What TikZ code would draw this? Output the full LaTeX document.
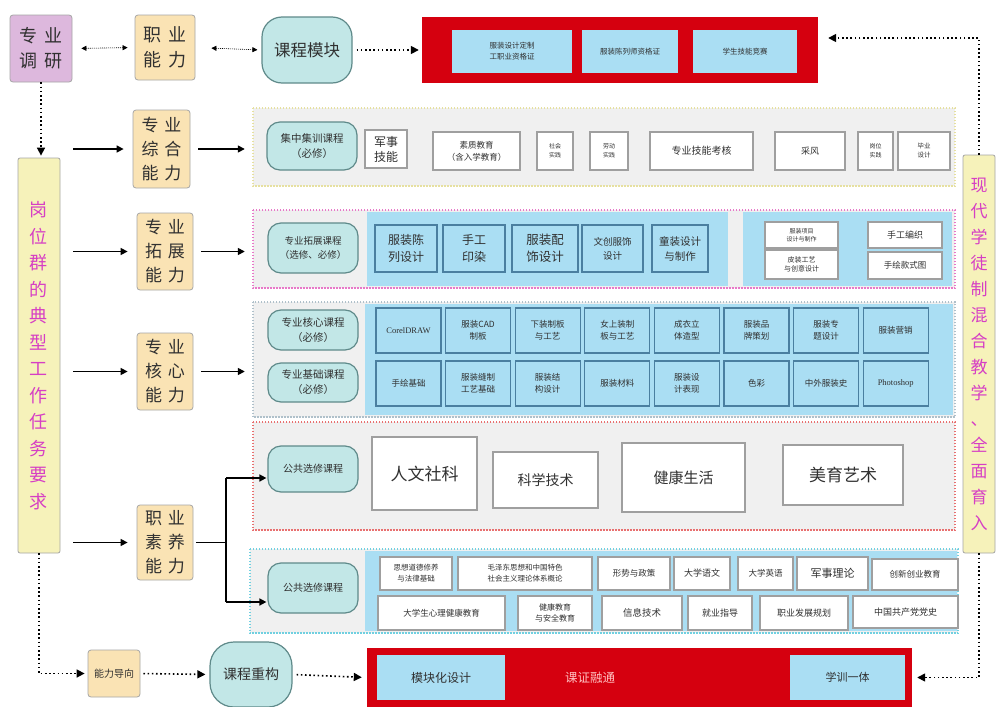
\documentclass[tikz,border=0pt]{standalone}
\usepackage{fontspec}
\setmainfont{Liberation Serif}
\newfontfamily\cjk{Noto Sans CJK SC}
\usetikzlibrary{arrows.meta}
\definecolor{tealf}{HTML}{C2E7E7}
\definecolor{teald}{HTML}{5F8A8A}
\definecolor{tanf}{HTML}{FAE3B4}
\definecolor{purpf}{HTML}{DDB8DD}
\definecolor{ylwf}{HTML}{F6F2BA}
\definecolor{magt}{HTML}{D63FC4}
\definecolor{lblue}{HTML}{AADEF3}
\definecolor{bblue}{HTML}{4A7FA0}
\definecolor{redf}{HTML}{D5000F}
\definecolor{contg}{HTML}{F0F0F0}
\definecolor{txt}{HTML}{303030}
\definecolor{d2}{HTML}{E6E0A0}
\definecolor{d3}{HTML}{E878C8}
\definecolor{d4}{HTML}{AFC0CA}
\definecolor{d5}{HTML}{E87070}
\definecolor{d6}{HTML}{70D0E0}
\newcommand\fz[2]{\cjk\fontsize{#1}{#2}\selectfont}
\newcommand\bx[7]{\node[#6, minimum width={(#4)-(#2)}, minimum height={(#5)-(#3)}, inner sep=0pt] (#1) at ({((#2)+(#4))/2},{((#3)+(#5))/2}) {#7};}
\newcommand\hsp{\hspace{0.35em}}
\begin{document}
\begin{tikzpicture}[x=1pt,y=-1pt,
  every node/.style={font=\cjk, align=center, text=txt},
  tanbox/.style={fill=tanf, draw=gray!70, rounded corners=3pt, line width=0.8pt},
  purpbox/.style={fill=purpf, draw=gray!70, rounded corners=3pt, line width=0.8pt},
  ylwbox/.style={fill=ylwf, draw=gray!70, rounded corners=2pt, line width=0.8pt},
  course/.style={fill=tealf, draw=teald, rounded corners=13pt, line width=1.2pt},
  wbox/.style={fill=white, draw=gray!75, line width=1.2pt},
  bbox/.style={fill=lblue, draw=bblue, line width=1.2pt},
  lbox/.style={fill=lblue},
  redbox/.style={fill=redf},
  contfill/.style={fill=contg},
  bord/.style={line width=1.6pt, dash pattern=on 1.4pt off 1.6pt},
  sarr/.style={line width=1.5pt, -{Triangle[length=7pt,width=7pt]}},
  sline/.style={line width=1.5pt},
  darr/.style={line width=1.6pt, dash pattern=on 1.6pt off 2.6pt, -{Triangle[length=8pt,width=8pt]}},
  tdd/.style={line width=0.6pt, dash pattern=on 1pt off 1pt, {Triangle[length=5pt,width=5pt]}-{Triangle[length=5pt,width=5pt]}}
]
\useasboundingbox (0,0) rectangle (997,707);
\fill[white] (0,0) rectangle (997,707);

% top row
\bx{zy}{10}{15}{72}{82}{purpbox, font=\fz{18}{25}}{专\hsp 业\\调\hsp 研}
\bx{zn}{135}{15}{195}{80}{tanbox, font=\fz{18}{25}}{职\hsp 业\\能\hsp 力}
\bx{km}{262}{17}{352}{83}{course, rounded corners=20pt, font=\fz{16.5}{20}}{课程模块}
\bx{rt}{422}{17}{818}{83}{redbox}{}
\bx{t1}{452}{30}{572}{73}{lbox, font=\fz{7.5}{11}}{服装设计定制\\工职业资格证}
\bx{t2}{582}{30}{678}{73}{lbox, font=\fz{7.5}{11}}{服装陈列师资格证}
\bx{t3}{693}{30}{797}{73}{lbox, font=\fz{7.5}{11}}{学生技能竞赛}

% side columns
\bx{gw}{18}{158}{60}{553}{ylwbox, font=\fz{18}{26.5}, text=magt}{岗\\位\\群\\的\\典\\型\\工\\作\\任\\务\\要\\求}
\bx{rv}{963}{155}{995}{553}{ylwbox, font=\fz{17}{26}, text=magt}{现\\代\\学\\徒\\制\\混\\合\\教\\学\\、\\全\\面\\育\\入}

% middle column
\bx{m1}{133}{110}{190}{188}{tanbox, font=\fz{17}{24}}{专\hsp 业\\综\hsp 合\\能\hsp 力}
\bx{m2}{137}{213}{193}{290}{tanbox, font=\fz{17}{24}}{专\hsp 业\\拓\hsp 展\\能\hsp 力}
\bx{m3}{137}{333}{193}{410}{tanbox, font=\fz{17}{24}}{专\hsp 业\\核\hsp 心\\能\hsp 力}
\bx{m4}{137}{505}{193}{580}{tanbox, font=\fz{17}{24}}{职\hsp 业\\素\hsp 养\\能\hsp 力}

% row 2
\bx{c2}{253}{108}{955}{186}{contfill}{}
\draw[bord, d2] (c2.north west) rectangle (c2.south east);
\bx{p2}{267}{122}{357}{170}{course, font=\fz{10.5}{15}}{集中集训课程\\（必修）}
\bx{a1}{365}{130}{407}{168}{wbox, font=\fz{12}{15}}{军事\\技能}
\bx{a2}{433}{132}{520}{170}{wbox, font=\fz{8.5}{12}}{素质教育\\（含入学教育）}
\bx{a3}{537}{132}{573}{170}{wbox, font=\fz{6}{9}}{社会\\实践}
\bx{a4}{590}{132}{628}{170}{wbox, font=\fz{6}{9}}{劳动\\实践}
\bx{a5}{650}{132}{753}{170}{wbox, font=\fz{10}{12}}{专业技能考核}
\bx{a6}{775}{132}{845}{170}{wbox, font=\fz{9}{12}}{采风}
\bx{a7}{858}{132}{893}{170}{wbox, font=\fz{6}{9}}{岗位\\实践}
\bx{a8}{898}{132}{950}{170}{wbox, font=\fz{6.5}{9}}{毕业\\设计}

% row 3
\bx{c3}{253}{210}{955}{288}{contfill}{}
\fill[lblue] (367,212) rectangle (728,286);
\fill[lblue] (743,212) rectangle (952,286);
\draw[bord, d3] (c3.north west) rectangle (c3.south east);
\bx{p3}{268}{223}{358}{273}{course, font=\fz{9.5}{14}}{专业拓展课程\\（选修、必修）}
\bx{b1}{375}{225}{437}{272}{bbox, font=\fz{12}{17}}{服装陈\\列设计}
\bx{b2}{443}{225}{505}{272}{bbox, font=\fz{12}{17}}{手工\\印染}
\bx{b3}{512}{225}{578}{272}{bbox, font=\fz{12.5}{17}}{服装配\\饰设计}
\bx{b4}{582}{225}{643}{272}{bbox, font=\fz{9.5}{14}}{文创服饰\\设计}
\bx{b5}{652}{225}{708}{272}{bbox, font=\fz{10.5}{15}}{童装设计\\与制作}
\bx{b6}{765}{222}{838}{248}{wbox, font=\fz{6}{8}}{服装项目\\设计与制作}
\bx{b7}{765}{250}{838}{279}{wbox, font=\fz{7}{9.5}}{皮装工艺\\与创意设计}
\bx{b8}{868}{222}{942}{248}{wbox, font=\fz{9}{11}}{手工编织}
\bx{b9}{868}{252}{942}{279}{wbox, font=\fz{8.5}{11}}{手绘款式图}

% row 4
\bx{c4}{253}{302}{955}{417}{contfill}{}
\fill[lblue] (365,304) rectangle (953,415);
\draw[bord, d4] (c4.north west) rectangle (c4.south east);
\bx{p4a}{268}{310}{358}{350}{course, font=\fz{10.5}{15}}{专业核心课程\\（必修）}
\bx{p4b}{268}{363}{358}{402}{course, font=\fz{10.5}{15}}{专业基础课程\\（必修）}
\foreach \t [count=\i] in {{{\rmfamily CorelDRAW}},{服装CAD\\制板},{下装制板\\与工艺},{女上装制\\板与工艺},{成衣立\\体造型},{服装品\\牌策划},{服装专\\题设计},{服装营销}}{
  \bx{k\i}{376+69.6*(\i-1)}{308}{441+69.6*(\i-1)}{353}{bbox, font=\fz{8.5}{12}}{\t}
}
\foreach \t [count=\i] in {{手绘基础},{服装缝制\\工艺基础},{服装结\\构设计},{服装材料},{服装设\\计表现},{色彩},{中外服装史},{{\rmfamily Photoshop}}}{
  \bx{j\i}{376+69.6*(\i-1)}{361}{441+69.6*(\i-1)}{406}{bbox, font=\fz{8.5}{12}}{\t}
}

% row 5
\bx{c5}{253}{422}{955}{530}{contfill}{}
\draw[bord, d5] (c5.north west) rectangle (c5.south east);
\bx{p5}{268}{446}{358}{492}{course, font=\fz{10}{13}}{公共选修课程}
\bx{e1}{372}{437}{477}{510}{wbox, font=\fz{17}{20}}{人文社科}
\bx{e2}{493}{452}{598}{508}{wbox, font=\fz{14}{16}}{科学技术}
\bx{e3}{622}{443}{745}{512}{wbox, font=\fz{15}{18}}{健康生活}
\bx{e4}{783}{445}{903}{505}{wbox, font=\fz{17}{20}}{美育艺术}

% row 6
\bx{c6}{250}{549}{958}{633}{contfill}{}
\fill[lblue] (365,551) rectangle (957,631);
\draw[bord, d6] (c6.north west) rectangle (c6.south east);
\bx{p6}{268}{563}{358}{613}{course, font=\fz{10}{13}}{公共选修课程}
\bx{f1}{380}{557}{452}{590}{wbox, font=\fz{7.5}{11}}{思想道德修养\\与法律基础}
\bx{f2}{458}{557}{592}{590}{wbox, font=\fz{7.5}{11}}{毛泽东思想和中国特色\\社会主义理论体系概论}
\bx{f3}{598}{557}{670}{590}{wbox, font=\fz{8.5}{11}}{形势与政策}
\bx{f4}{674}{557}{730}{590}{wbox, font=\fz{9}{11}}{大学语文}
\bx{f5}{738}{557}{793}{590}{wbox, font=\fz{8.5}{11}}{大学英语}
\bx{f6}{797}{557}{868}{590}{wbox, font=\fz{11}{13}}{军事理论}
\bx{f7}{872}{559}{958}{590}{wbox, font=\fz{8.5}{11}}{创新创业教育}
\bx{g1}{378}{596}{505}{630}{wbox, font=\fz{8.5}{11}}{大学生心理健康教育}
\bx{g2}{518}{596}{592}{630}{wbox, font=\fz{8}{11}}{健康教育\\与安全教育}
\bx{g3}{602}{596}{682}{630}{wbox, font=\fz{9.5}{12}}{信息技术}
\bx{g4}{688}{596}{752}{630}{wbox, font=\fz{9}{12}}{就业指导}
\bx{g5}{760}{596}{848}{630}{wbox, font=\fz{9}{12}}{职业发展规划}
\bx{g6}{853}{596}{958}{628}{wbox, font=\fz{9}{12}}{中国共产党党史}

% bottom
\bx{nd}{88}{650}{140}{697}{tanbox, font=\fz{10}{12}}{能力导向}
\bx{kc}{210}{642}{292}{707}{course, rounded corners=24pt, font=\fz{14}{16}}{课程重构}
\bx{rb}{367}{648}{912}{707}{redbox}{}
\bx{mk}{377}{655}{505}{700}{lbox, font=\fz{12}{14}}{模块化设计}
\node[font=\fz{12.5}{14}, text=red!25!white] (kz) at (590,678) {课证融通};
\bx{xx}{790}{655}{905}{700}{lbox, font=\fz{11}{13}}{学训一体}

% connectors top
\draw[tdd, shorten <=9pt, shorten >=7pt] (zy.east) -- (zn.west);
\draw[tdd, shorten <=16pt, shorten >=4pt] (zn.east) -- (km.west);
\draw[darr, shorten <=4pt, shorten >=3pt] (km.east) -- (rt.west);
\draw[darr, shorten >=2pt] (zy.south) -- (zy.south |- gw.north);
\coordinate (tr) at (979,38);
\draw[darr, shorten >=10pt] (rv.north) -- (tr) -- (tr -| rt.east);

% solid arrows
\foreach \m in {m1,m2,m3,m4}{
  \draw[sarr, shorten <=13pt, shorten >=9pt] (gw.east |- \m.west) -- (\m.west);
}
\draw[sarr, shorten <=8pt, shorten >=8pt] (m1.east) -- (m1.east -| c2.west);
\draw[sarr, shorten <=8pt, shorten >=8pt] (m2.east) -- (m2.east -| c3.west);
\draw[sarr, shorten <=8pt, shorten >=8pt] (m3.east) -- (m3.east -| c4.west);
\coordinate (q1) at (226,478);
\coordinate (q2) at (226,602);
\draw[sline, shorten <=3pt] (m4.east) -- (m4.east -| q1);
\draw[sline] (q1) -- (q2);
\draw[sarr, shorten >=1pt] (q1) -- (q1 -| p5.west);
\draw[sarr, shorten >=1pt] (q2) -- (q2 -| p6.west);

% bottom connectors
\draw[darr, shorten >=3pt] (gw.south) -- (gw.south |- nd.west) -- (nd.west);
\draw[darr, shorten <=3pt, shorten >=4pt] (nd.east) -- (kc.west);
\draw[darr, shorten <=4pt, shorten >=5pt] (kc.east) -- (rb.west);
\draw[darr, shorten >=5pt] (rv.south) |- (rb.east);
\end{tikzpicture}
\end{document}
